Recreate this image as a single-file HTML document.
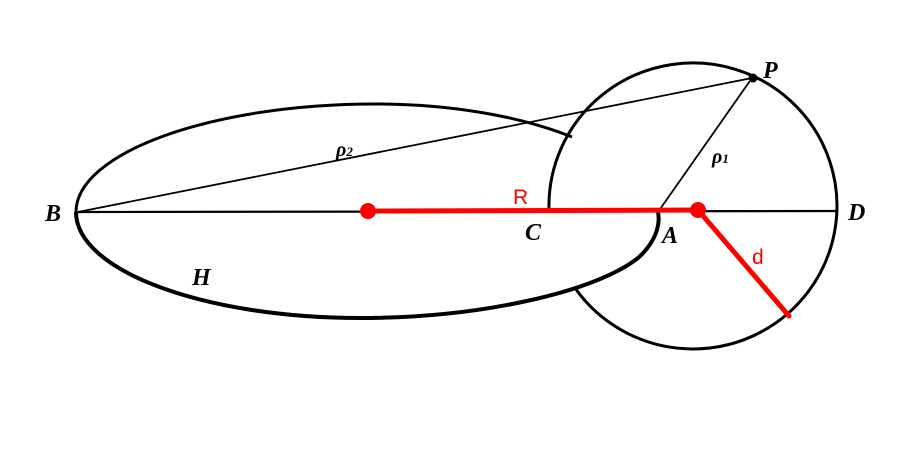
<!DOCTYPE html>
<html><head><style>body{margin:0;background:#fff}svg{display:block}</style></head><body>
<svg width="920" height="450" viewBox="0 0 920 450" xmlns="http://www.w3.org/2000/svg">
<rect width="920" height="450" fill="#fff"/>
<g fill="none" stroke="#000">
<path d="M549,210 A144,143 0 1 1 575,288" stroke-width="3"/>
<path d="M572,137 C520,116 450,104 375,104 C211,104 76,153 76,212" stroke-width="3"/>
<path d="M76,212 C76,271 205,318 360,318 C480,318 595,292 638,258 C658,240 660,222 658,212" stroke-width="4"/>
<line x1="78" y1="212" x2="752" y2="78" stroke-width="1.8"/>
<line x1="78" y1="212" x2="836" y2="211" stroke-width="2.2"/>
<line x1="658" y1="212" x2="752" y2="78" stroke-width="1.8"/>
</g>
<circle cx="753" cy="78" r="4.5" fill="#000"/>
<g stroke="#f00" stroke-width="5" stroke-linecap="round">
<line x1="368" y1="211" x2="698" y2="210"/>
<line x1="698" y1="210" x2="789" y2="316"/>
</g>
<circle cx="368" cy="211" r="8" fill="#f00"/>
<circle cx="698" cy="210" r="8" fill="#f00"/>
<g font-family="Liberation Serif, serif" font-style="italic" font-weight="bold" font-size="24" fill="#000">
<text x="45" y="221">B</text>
<text x="525" y="240">C</text>
<text x="662" y="243">A</text>
<text x="848" y="220">D</text>
<text x="763" y="78">P</text>
<text x="192" y="285">H</text>
<text x="336" y="156" font-size="20">ρ<tspan font-size="13">2</tspan></text>
<text x="712" y="163" font-size="20">ρ<tspan font-size="13">1</tspan></text>
</g>
<g font-family="Liberation Sans, sans-serif" font-size="21" fill="#f00">
<text x="513" y="204">R</text>
<text x="752" y="264">d</text>
</g>
</svg>
</body></html>
